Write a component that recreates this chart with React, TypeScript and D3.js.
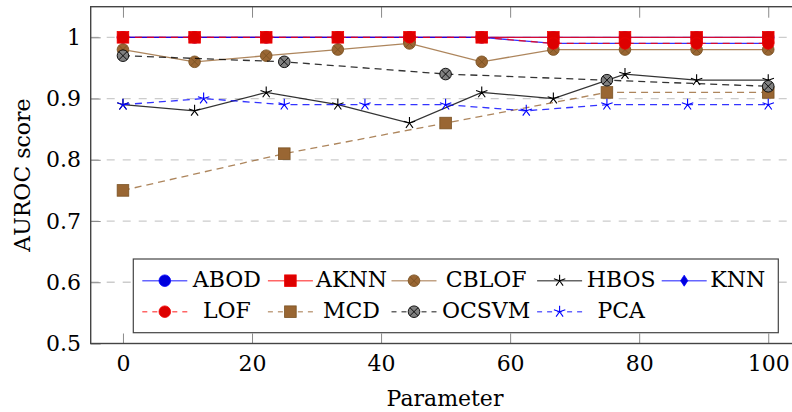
import React, { useEffect, useRef } from "react";
import * as d3 from "d3";

// parameter values on the x axis
const xTen = [0, 11.1, 22.2, 33.3, 44.4, 55.6, 66.7, 77.8, 88.9, 100];
const xFive = [0, 25, 50, 75, 100];
const xNine = [0, 12.5, 25, 37.5, 50, 62.5, 75, 87.5, 100];

// AUROC scores per method
const abod = [1, 1, 1, 1, 1, 1, 1, 1, 1, 1];
const aknn = [1, 1, 1, 1, 1, 1, 1, 1, 1, 1];
const cblof = [0.98, 0.96, 0.97, 0.98, 0.99, 0.96, 0.98, 0.98, 0.98, 0.98];
const hbos = [0.89, 0.88, 0.91, 0.89, 0.86, 0.91, 0.9, 0.94, 0.93, 0.93];
const knn = [1, 1, 1, 1, 1, 1, 0.99, 0.99, 0.99, 0.99];
const lof = [1, 1, 1, 1, 1, 1, 0.99, 0.99, 0.99, 0.99];
const mcd = [0.75, 0.81, 0.86, 0.91, 0.91];
const ocsvm = [0.97, 0.96, 0.94, 0.93, 0.92];
const pca = [0.89, 0.9, 0.89, 0.89, 0.89, 0.88, 0.89, 0.89, 0.89];

const xTicks = [0, 20, 40, 60, 80, 100];
const yTicks = [0.5, 0.6, 0.7, 0.8, 0.9, 1];
const yTickLabels = ["0.5", "0.6", "0.7", "0.8", "0.9", "1"];

const FONT = "'DejaVu Serif', serif";

const series = [
  { name: "ABOD", xs: xTen, ys: abod, color: "#0000ff", dash: null, mark: "circle", fill: "#0000dd", stroke: "#0000ff" },
  { name: "AKNN", xs: xTen, ys: aknn, color: "#ff0000", dash: null, mark: "square", fill: "#dd0000", stroke: "#f00000" },
  { name: "CBLOF", xs: xTen, ys: cblof, color: "#996633", dash: null, mark: "otimes", fill: "#996633", stroke: "#7a5222" },
  { name: "HBOS", xs: xTen, ys: hbos, color: "#000000", dash: null, mark: "star", fill: "none", stroke: "#000000" },
  { name: "KNN", xs: xTen, ys: knn, color: "#0000ff", dash: null, mark: "diamond", fill: "#0000dd", stroke: "#0000ff" },
  { name: "LOF", xs: xTen, ys: lof, color: "#ff0000", dash: "7,5", mark: "circle", fill: "#dd0000", stroke: "#f00000" },
  { name: "MCD", xs: xFive, ys: mcd, color: "#996633", dash: "7,5", mark: "square", fill: "#996633", stroke: "#7a5222" },
  { name: "OCSVM", xs: xFive, ys: ocsvm, color: "#000000", dash: "7,5", mark: "otimes", fill: "#808080", stroke: "#000000" },
  { name: "PCA", xs: xNine, ys: pca, color: "#0000ff", dash: "7,5", mark: "star", fill: "none", stroke: "#0000ff" },
];

// legend text cell widths per column
const legendCols = [68, 66, 88, 67, 51];

function drawMark(g, kind, cx, cy, fill, stroke) {
  const r = 5.8;
  if (kind === "circle") {
    g.append("circle").attr("cx", cx).attr("cy", cy).attr("r", r)
      .attr("fill", fill).attr("stroke", stroke).attr("stroke-width", 0.8);
  } else if (kind === "square") {
    g.append("rect").attr("x", cx - r).attr("y", cy - r).attr("width", 2 * r).attr("height", 2 * r)
      .attr("fill", fill).attr("stroke", stroke).attr("stroke-width", 0.8);
  } else if (kind === "diamond") {
    g.append("path")
      .attr("d", `M${cx},${cy - 5.5}L${cx + 3.6},${cy}L${cx},${cy + 5.5}L${cx - 3.6},${cy}Z`)
      .attr("fill", fill).attr("stroke", stroke).attr("stroke-width", 0.8);
  } else if (kind === "otimes") {
    g.append("circle").attr("cx", cx).attr("cy", cy).attr("r", r)
      .attr("fill", fill).attr("stroke", stroke).attr("stroke-width", 0.9);
    const k = r * 0.707;
    g.append("path")
      .attr("d", `M${cx - k},${cy - k}L${cx + k},${cy + k}M${cx - k},${cy + k}L${cx + k},${cy - k}`)
      .attr("stroke", stroke).attr("stroke-width", 0.9);
  } else if (kind === "star") {
    let d = "";
    for (let i = 0; i < 5; i++) {
      const a = -Math.PI / 2 + (i * 2 * Math.PI) / 5;
      d += `M${cx},${cy}L${cx + 6 * Math.cos(a)},${cy + 6 * Math.sin(a)}`;
    }
    g.append("path").attr("d", d).attr("stroke", stroke).attr("stroke-width", 1.1).attr("fill", "none");
  }
}

export default function App() {
  const ref = useRef(null);

  useEffect(() => {
    const svg = d3.select(ref.current);
    svg.selectAll("*").remove();

    const left = 90.7, right = 800.5, top = 6.7, bottom = 343.5;
    const x = d3.scaleLinear().domain([-5, 105]).range([left, right]);
    const y = d3.scaleLinear().domain([0.5, 1.05]).range([bottom, top]);

    // grid
    svg.append("g")
      .selectAll("line")
      .data(yTicks.filter((t) => t > 0.5))
      .enter()
      .append("line")
      .attr("x1", left)
      .attr("x2", right)
      .attr("y1", (d) => y(d))
      .attr("y2", (d) => y(d))
      .attr("stroke", "#cccccc")
      .attr("stroke-width", 1.3)
      .attr("stroke-dasharray", "8,8");

    // axes
    const gb = svg.append("g").attr("transform", `translate(0,${bottom})`)
      .call(d3.axisBottom(x).tickValues(xTicks).tickSize(-10).tickPadding(12).tickFormat((d) => String(d)));
    const gt = svg.append("g").attr("transform", `translate(0,${top})`)
      .call(d3.axisTop(x).tickValues(xTicks).tickSize(-11).tickFormat(() => ""));
    const gl = svg.append("g").attr("transform", `translate(${left},0)`)
      .call(d3.axisLeft(y).tickValues(yTicks).tickSize(-10).tickPadding(9.7).tickFormat((d, i) => yTickLabels[i]));
    [gb, gt, gl].forEach((g) => {
      g.select(".domain").remove();
      g.selectAll(".tick line").attr("stroke", "#8a8a8a").attr("stroke-width", 1);
      g.selectAll(".tick text").attr("font-family", FONT).attr("font-size", 22).attr("fill", "#000");
    });
    gb.selectAll(".tick text").attr("dy", "0.71em");

    // lines and markers
    const line = d3.line().x((d) => x(d[0])).y((d) => y(d[1]));
    series.forEach((s) => {
      const pts = s.xs.map((v, i) => [v, s.ys[i]]);
      const g = svg.append("g");
      g.append("path")
        .attr("d", line(pts))
        .attr("fill", "none")
        .attr("stroke", s.color)
        .attr("stroke-opacity", 0.8)
        .attr("stroke-width", 1.3)
        .attr("stroke-dasharray", s.dash);
      pts.forEach((p) => drawMark(g, s.mark, x(p[0]), y(p[1]), s.fill, s.stroke));
    });

    // frame
    svg.append("rect")
      .attr("x", left).attr("y", top)
      .attr("width", right - left).attr("height", bottom - top)
      .attr("fill", "none").attr("stroke", "#444").attr("stroke-width", 1.4);

    // axis labels
    svg.append("text")
      .attr("x", 445).attr("y", 406)
      .attr("text-anchor", "middle")
      .attr("font-family", FONT).attr("font-size", 22)
      .text("Parameter");
    svg.append("text")
      .attr("transform", "translate(30,175) rotate(-90)")
      .attr("text-anchor", "middle")
      .attr("font-family", FONT).attr("font-size", 22)
      .text("AUROC score");

    // legend
    const lg = svg.append("g");
    lg.append("rect")
      .attr("x", 133.3).attr("y", 259)
      .attr("width", 645).attr("height", 73.7)
      .attr("fill", "white").attr("stroke", "#444").attr("stroke-width", 1.2);
    const rowsY = [280.7, 311.7];
    const colX = [];
    let cx = 142.3;
    legendCols.forEach((w) => {
      colX.push(cx);
      cx += 45 + 5.6 + w + 7;
    });
    series.forEach((s, i) => {
      const col = i % 5;
      const ry = rowsY[Math.floor(i / 5)];
      const x0 = colX[col];
      lg.append("line")
        .attr("x1", x0).attr("x2", x0 + 45)
        .attr("y1", ry).attr("y2", ry)
        .attr("stroke", s.color)
        .attr("stroke-opacity", 0.6)
        .attr("stroke-width", 1.6)
        .attr("stroke-dasharray", s.dash ? "5,5" : null);
      drawMark(lg, s.mark, x0 + 22.5, ry, s.fill, s.stroke);
      lg.append("text")
        .attr("x", x0 + 45 + 5.6 + legendCols[col] / 2)
        .attr("y", ry + 6)
        .attr("text-anchor", "middle")
        .attr("font-family", FONT).attr("font-size", 22)
        .text(s.name);
    });
  }, []);

  return (
    <svg
      ref={ref}
      width={792}
      height={412}
      style={{ position: "absolute", left: 0, top: 0, background: "white" }}
    ></svg>
  );
}
